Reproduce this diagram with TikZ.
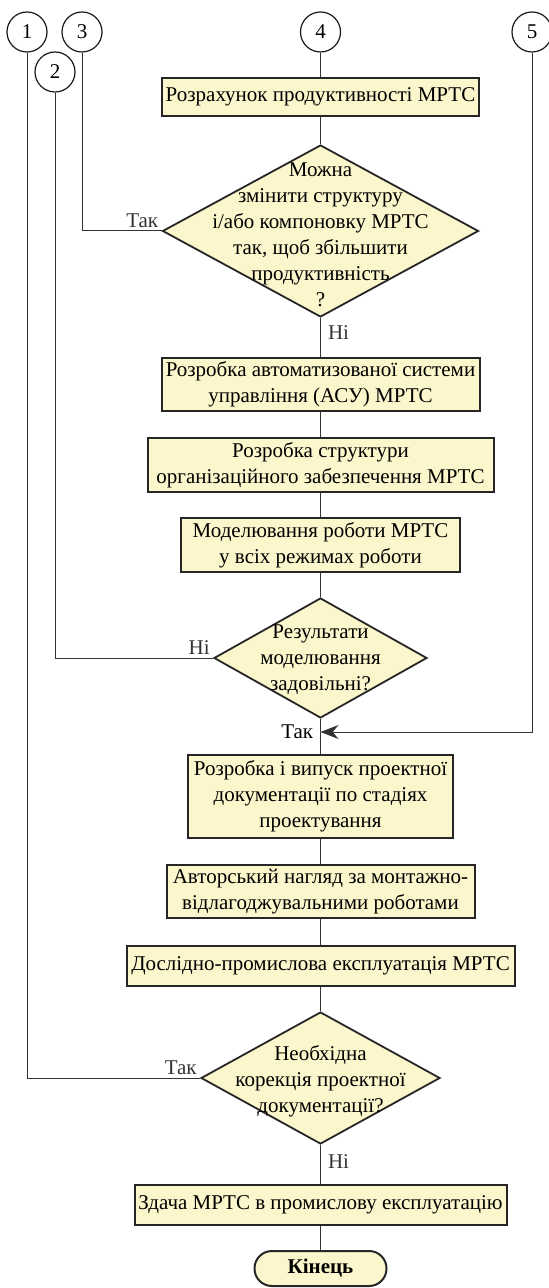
\documentclass[tikz,border=0pt]{standalone}
\usepackage{fontspec}
\setmainfont{Liberation Serif}
\usetikzlibrary{arrows.meta,shapes.geometric}
\tikzset{>={Stealth[length=9pt,width=7pt]}}
\definecolor{boxfill}{RGB}{251,246,203}
\newcommand{\flowfont}{\fontsize{10.5}{13}\selectfont}
\tikzstyle{block}=[draw=black!85,line width=1pt,fill=boxfill,align=center,inner sep=1pt]
\tikzstyle{decision}=[diamond,draw=black!85,line width=0.9pt,fill=boxfill,inner sep=0pt]
\tikzstyle{connector}=[circle,draw=black!90,line width=0.6pt,minimum size=20pt,inner sep=0pt]
\tikzstyle{terminal}=[draw=black!85,line width=1pt,fill=boxfill,rounded corners=8.7pt,inner sep=0pt,font=\flowfont\bfseries]
\tikzstyle{flow}=[line width=0.5pt,black!80]
\tikzstyle{answer}=[inner sep=1.5pt]

\begin{document}
\begin{tikzpicture}[x=0.5pt,y=-0.5pt,font=\flowfont]
            \useasboundingbox (0,0) rectangle (548,1288);
            \def\mx{320.5}
            \node[connector] (c1) at (27,32) {1};
            \node[connector] (c3) at (82,32) {3};
            \node[connector] (c2) at (55,72) {2};
            \node[connector] (c4) at (\mx,32) {4};
            \node[connector] (c5) at (532,32) {5};
            \node[block, minimum width=158.5pt, minimum height=19pt] (b1) at (\mx,97) {Розрахунок продуктивності МРТС};
            \node[decision, minimum width=158pt, minimum height=86pt] (d1) at (\mx,231) {};
            \node[align=center] (d1txt) at (\mx,235) {Можна\\змінити структуру\\і/або компоновку МРТС\\так, щоб збільшити\\продуктивність\\?};
            \node[block, minimum width=159pt, minimum height=26.5pt] (b2) at (\mx,384.5) {Розробка автоматизованої системи\\управління (АСУ) МРТС};
            \node[block, minimum width=173pt, minimum height=27pt] (b3) at (\mx,465) {Розробка структури\\організаційного забезпечення МРТС};
            \node[block, minimum width=139.5pt, minimum height=27pt] (b4) at (\mx,545) {Моделювання роботи МРТС\\у всіх режимах роботи};
            \node[decision, minimum width=106.5pt, minimum height=60pt] (d2) at (\mx,658) {};
            \node[align=center] (d2txt) at (\mx,660) {Результати\\моделювання\\задовільні?};
            \coordinate (j5) at (\mx,732);
            \node[block, minimum width=132.5pt, minimum height=41.5pt] (b5) at (\mx,796.5) {Розробка і випуск проектної\\документації по стадіях\\проектування};
            \node[block, minimum width=154pt, minimum height=26.5pt] (b6) at (\mx,891.5) {Авторський нагляд за монтажно-\\відлагоджувальними роботами};
            \node[block, minimum width=194pt, minimum height=20pt] (b7) at (\mx,966) {Дослідно-промислова експлуатація МРТС};
            \node[decision, minimum width=119.5pt, minimum height=66pt] (d3) at (\mx,1078) {};
            \node[align=center] (d3txt) at (\mx,1081) {Необхідна\\корекція проектної\\документації?};
            \node[block, minimum width=186pt, minimum height=20pt] (b8) at (\mx,1205) {Здача МРТС в промислову експлуатацію};
            \node[terminal, minimum width=66pt, minimum height=17.5pt] (end) at (\mx,1268.5) {Кінець};
            \draw[flow] (c4)--(b1);
            \draw[flow] (b1)--(d1);
            \draw[flow] (d1)--(b2) node[pos=0, answer, anchor=north west, xshift=2pt, yshift=-2pt] (no1) {Ні};
            \draw[flow] (b2)--(b3);
            \draw[flow] (b3)--(b4);
            \draw[flow] (b4)--(d2);
            \draw[flow] (d2)--(b5);
            \draw[flow] (b5)--(b6);
            \draw[flow] (b6)--(b7);
            \draw[flow] (b7)--(d3);
            \draw[flow] (d3)--(b8) node[pos=0, answer, anchor=north west, xshift=2pt, yshift=-3pt] (no3) {Ні};
            \draw[flow] (b8)--(end);
            \draw[flow] (d1.west) node[answer, above left] (yes1) {Так} -| (c3);
            \draw[flow] (d2.west) node[answer, above left] (no2) {Ні} -| (c2);
            \draw[flow] (d3.west) node[answer, above left] (yes3) {Так} -| (c1);
            \draw[flow, ->] (c5) |- (j5);
            \path (j5) node[answer, left, xshift=-2pt] (yes2) {Так};
        \end{tikzpicture}
\end{document}
